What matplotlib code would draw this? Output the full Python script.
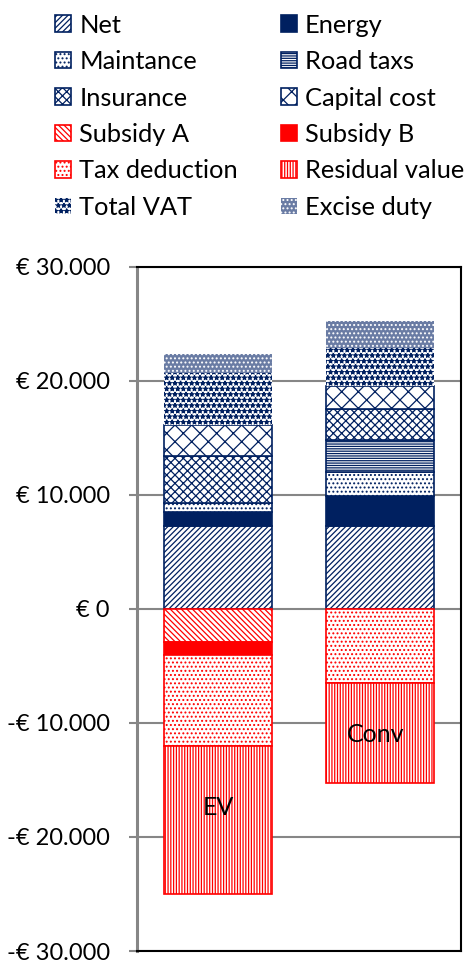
import matplotlib
matplotlib.use("Agg")
import matplotlib.pyplot as plt
from matplotlib.patches import Patch
from matplotlib.ticker import FuncFormatter, MultipleLocator

plt.rcParams["font.family"] = ["Lato", "DejaVu Sans"]
plt.rcParams["hatch.linewidth"] = 0.9

# Cost breakdown per vehicle type (EUR)
categories = ["EV", "Conv"]
net = [7300, 7250]
energy = [1200, 2700]
maintance = [800, 2100]
road_taxs = [0, 2800]
insurance = [4100, 2700]
capital_cost = [2700, 2000]
total_vat = [4600, 3300]
excise_duty = [1700, 2400]
subsidy_a = [-2900, 0]
subsidy_b = [-1100, 0]
tax_deduction = [-8000, -6500]
residual_value = [-13000, -8800]

NAVY = "#002060"
RED = "#FF0000"

# name, values, facecolor, edgecolor, hatch, border width
positive = [
    ("Net", net, "white", NAVY, "//////", 1.2),
    ("Energy", energy, NAVY, NAVY, None, 1.2),
    ("Maintance", maintance, "white", NAVY, "....", 1.2),
    ("Road taxs", road_taxs, "white", NAVY, "-------", 1.2),
    ("Insurance", insurance, "white", NAVY, "xxxx", 1.2),
    ("Capital cost", capital_cost, "white", NAVY, "xx", 1.2),
    ("Total VAT", total_vat, "white", NAVY, "***", 0),
    ("Excise duty", excise_duty, "#6a7ca4", "white", "....", 0),
]
negative = [
    ("Subsidy A", subsidy_a, "white", RED, "\\" * 6, 1.2),
    ("Subsidy B", subsidy_b, RED, RED, None, 1.2),
    ("Tax deduction", tax_deduction, "white", RED, "....", 1.2),
    ("Residual value", residual_value, "white", RED, "||||||", 1.2),
]

fig = plt.figure(figsize=(4.7, 9.63), dpi=100)
ax = fig.add_axes([0.2915, 0.01246, 0.6895, 0.7103])

x = list(range(len(categories)))
width = 0.67

for group in (positive, negative):
    base = [0] * len(categories)
    for name, vals, fc, ec, hatch, lw in group:
        for i, v in enumerate(vals):
            if v == 0:
                continue
            ax.bar(x[i], v, width, bottom=base[i], color=fc, edgecolor=ec,
                   hatch=hatch, linewidth=lw, zorder=2)
            base[i] += v

ax.text(0, -17400, "EV", ha="center", va="center", fontsize=18, zorder=3)
ax.text(0.97, -11000, "Conv", ha="center", va="center", fontsize=18, zorder=3)

ax.set_xlim(-0.5, 1.5)
ax.set_ylim(-30000, 30000)
ax.yaxis.set_major_locator(MultipleLocator(10000))


def euro(v, pos):
    sign = "-" if v < 0 else ""
    return f"{sign}€ {abs(v):,.0f}".replace(",", ".")


ax.yaxis.set_major_formatter(FuncFormatter(euro))
ax.tick_params(axis="y", direction="out", length=6, width=1.5, color="#868686",
               labelsize=17, pad=13.5)
ax.set_xticks([])
ax.yaxis.grid(True, color="#868686", linewidth=1.5, zorder=0)
ax.set_axisbelow(True)
for side in ("top", "right", "bottom"):
    ax.spines[side].set_color("black")
    ax.spines[side].set_linewidth(1.5)
ax.spines["left"].set_color("#868686")
ax.spines["left"].set_linewidth(2.2)

# legend: two columns, filled column by column
entries = {name: (fc, ec, hatch) for name, _, fc, ec, hatch, _ in positive + negative}
order = ["Net", "Maintance", "Insurance", "Subsidy A", "Tax deduction", "Total VAT",
         "Energy", "Road taxs", "Capital cost", "Subsidy B", "Residual value", "Excise duty"]
handles = []
for name in order:
    fc, ec, hatch = entries[name]
    lw = 0 if name in ("Total VAT", "Excise duty") else 1.2
    handles.append(Patch(facecolor=fc, edgecolor=ec, hatch=hatch, linewidth=lw, label=name))

fig.legend(handles=handles, loc="upper left", bbox_to_anchor=(0.1014, 0.9938), ncol=2,
           frameon=False, fontsize=18.3, handlelength=0.62, handleheight=0.62,
           handletextpad=0.32, columnspacing=1.7, labelspacing=0.53,
           borderaxespad=0, borderpad=0.3)

fig.savefig("out.png", dpi=100)
